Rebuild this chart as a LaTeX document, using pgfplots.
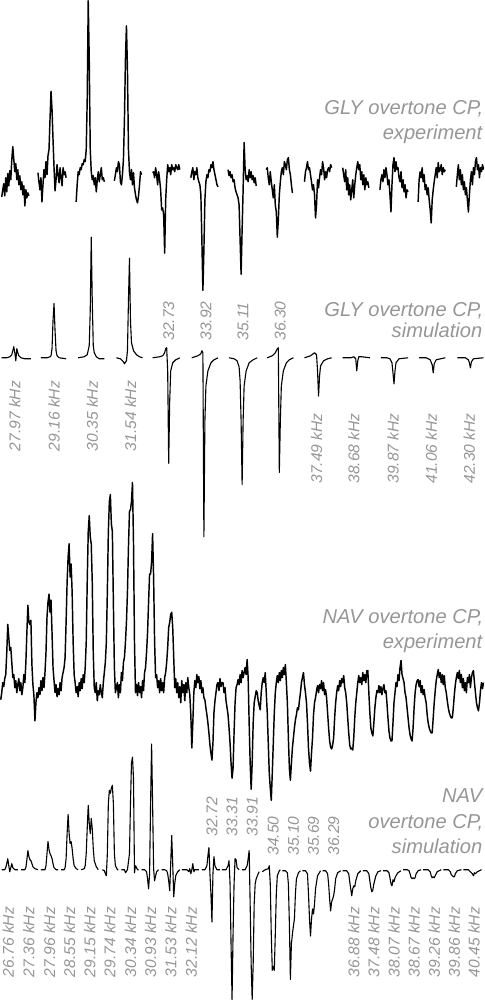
\documentclass[border=0pt]{standalone}
\usepackage{pgfplots}
\pgfplotsset{compat=1.18}
\usepackage{fontspec}
\setmainfont{Liberation Sans}
\definecolor{lblgray}{RGB}{150,150,150}
\pgfplotsset{tr/.style={black, line width=1.1pt, no markers, line join=round},
  trn/.style={black, line width=1.45pt, no markers, line join=round}}
\begin{document}
\begin{tikzpicture}
\begin{axis}[scale only axis, width=494pt, height=1000pt,
  xmin=0, xmax=494, ymin=0, ymax=1000, y dir=reverse,
  hide axis, clip=false]
% ---------- Panel 1: GLY experiment ----------
\addplot[trn] coordinates {(13,197)(14,190)(15,184)(16,196)(17,178)(18,192)(19,174)(20,186)(21,171)(22,180)(23,160)(24,147)(25,160)(26,172)(27,164)(28,180)(29,170)(30,185)(31,176)(32,190)(33,182)(34,195)(35,186)(36,206)(37,190)(38,198)(39,193)(40,196)};
\addplot[trn] coordinates {(49,173)(50,182)(51,190)(52,178)(53,202)(54,185)(55,170)(56,178)(57,162)(58,175)(59,156)(60,150)(61,120)(62,92)(63,110)(64,140)(65,168)(66,191)(67,180)(68,165)(69,175)(70,183)(71,168)(72,178)(73,186)(74,168)(75,175)(76,172)(77,178)};
\addplot[trn] coordinates {(87,202)(88,185)(89,172)(90,175)(91,168)(92,170)(93,164)(94,165)(95,160)(96,162)(97,150)(98,100)(99,2)(100,60)(101,150)(102,172)(103,180)(104,176)(105,185)(106,178)(107,192)(108,180)(109,172)(110,182)(111,175)(112,168)(113,180)(114,178)(115,182)};
\addplot[trn] coordinates {(125,181)(126,175)(127,168)(128,172)(129,162)(130,165)(131,182)(132,185)(133,175)(134,160)(135,120)(136,60)(137,27)(138,70)(139,150)(140,172)(141,180)(142,170)(143,185)(144,173)(145,188)(146,195)(147,200)(148,203)(149,196)(150,185)(151,172)(152,175)};
\addplot[trn] coordinates {(163,173)(164,172)(165,178)(166,168)(167,175)(168,185)(169,172)(170,180)(171,190)(172,210)(173,208)(174,215)(175,253)(176,200)(177,180)(178,165)(179,172)(180,168)(181,175)(182,165)(183,170)(184,168)(185,172)(186,165)(187,168)(188,170)(189,165)(190,170)};
\addplot[trn] coordinates {(201,178)(202,172)(203,168)(204,180)(205,172)(206,175)(207,168)(208,178)(209,182)(210,185)(211,195)(212,240)(213,290)(214,250)(215,200)(216,182)(217,175)(218,178)(219,170)(220,172)(221,165)(222,168)(223,162)(224,170)(225,175)(226,180)(227,185)(228,187)};
\addplot[trn] coordinates {(238,170)(239,176)(240,172)(241,178)(242,175)(243,182)(244,180)(245,188)(246,192)(247,195)(248,198)(249,205)(250,240)(251,274)(252,230)(253,190)(254,143)(255,170)(256,180)(257,176)(258,182)(259,170)(260,178)(261,172)(262,180)(263,176)(264,183)(265,178)(266,186)};
\addplot[trn] coordinates {(276,170)(277,168)(278,178)(279,185)(280,172)(281,182)(282,190)(283,198)(284,185)(285,205)(286,212)(287,237)(288,220)(289,195)(290,182)(291,172)(292,168)(293,175)(294,162)(295,165)(296,170)(297,160)(298,158)(299,170)(300,175)(301,185)(302,193)};
\addplot[trn] coordinates {(314,182)(315,172)(316,168)(317,162)(318,170)(319,168)(320,175)(321,182)(322,190)(323,185)(324,195)(325,218)(326,205)(327,180)(328,188)(329,178)(330,170)(331,175)(332,162)(333,168)(334,180)(335,172)(336,178)(337,170)(338,168)(339,172)(340,165)(341,168)};
\addplot[trn] coordinates {(352,168)(353,175)(354,182)(355,170)(356,190)(357,178)(358,195)(359,185)(360,200)(361,190)(362,180)(363,198)(364,185)(365,175)(366,168)(367,162)(368,170)(369,165)(370,180)(371,172)(372,185)(373,175)(374,190)(375,178)(376,185)(377,182)(378,188)};
\addplot[trn] coordinates {(389,190)(390,180)(391,175)(392,182)(393,170)(394,178)(395,168)(396,175)(397,185)(398,180)(399,195)(400,212)(401,185)(402,165)(403,158)(404,172)(405,162)(406,170)(407,168)(408,178)(409,182)(410,172)(411,188)(412,180)(413,192)(414,185)(415,198)(416,190)(417,192)};
\addplot[trn] coordinates {(427,202)(428,180)(429,172)(430,178)(431,168)(432,182)(433,175)(434,190)(435,185)(436,195)(437,188)(438,200)(439,210)(440,223)(441,200)(442,190)(443,182)(444,175)(445,168)(446,178)(447,163)(448,172)(449,170)(450,165)(451,175)(452,168)(453,172)(454,170)};
\addplot[trn] coordinates {(465,187)(466,175)(467,165)(468,180)(469,170)(470,185)(471,175)(472,190)(473,182)(474,195)(475,188)(476,200)(477,212)(478,195)(479,180)(480,172)(481,185)(482,168)(483,175)(484,162)(485,158)(486,170)(487,165)(488,178)(489,168)(490,172)(491,165)(492,170)};
% ---------- Panel 2: GLY simulation ----------
\addplot[tr] coordinates {(13,357)(18,357)(21,356)(23,354)(24,350)(25,346)(26,352)(27,360)(28,348)(29,352)(30,355)(32,357)(36,358)(42,358)};
\addplot[tr] coordinates {(52,357)(58,357)(61,356)(62,355)(63,348)(64,320)(65,303)(66,330)(67,350)(68,355)(70,357)(77,358)};
\addplot[tr] coordinates {(89,357)(95,356)(98,354)(100,345)(101,310)(102,237)(103,300)(104,345)(105,352)(107,356)(110,358)(115,358)};
\addplot[tr] coordinates {(127,357)(131,358)(134,361)(135,363)(137,360)(138,350)(139,300)(140,258)(141,320)(142,342)(144,350)(147,354)(150,356)(153,357)};
\addplot[tr] coordinates {(163,357)(170,356)(173,355)(175,352)(176,348)(177,347)(178,370)(179,462)(180,400)(181,370)(183,362)(186,359)(190,357)};
\addplot[tr] coordinates {(202,357)(208,355)(211,353)(212,350)(213,352)(214,535)(215,420)(216,385)(218,370)(221,362)(224,359)(228,357)};
\addplot[tr] coordinates {(239,357)(244,358)(247,360)(249,366)(250,380)(251,420)(252,483)(253,420)(254,385)(256,370)(259,362)(263,359)(267,357)};
\addplot[tr] coordinates {(277,357)(282,355)(285,352)(287,348)(288,347)(289,471)(290,420)(291,385)(293,370)(296,362)(299,359)(303,357)};
\addplot[tr] coordinates {(314,357)(320,355)(324,352)(326,354)(327,370)(328,395)(329,375)(330,365)(333,360)(337,358)(341,357)};
\addplot[tr] coordinates {(352,357)(360,357)(363,356)(365,358)(366,370)(367,360)(368,356)(371,356)(379,357)};
\addplot[tr] coordinates {(390,357)(396,357)(399,358)(401,362)(402,372)(403,383)(404,370)(405,362)(408,358)(417,357)};
\addplot[tr] coordinates {(428,357)(435,357)(439,359)(441,364)(442,372)(443,363)(445,359)(454,357)};
\addplot[tr] coordinates {(466,357)(474,357)(477,359)(478,362)(479,367)(480,361)(482,358)(492,357)};
% ---------- Panel 3: NAV experiment ----------
\addplot[trn] coordinates {(12,697)(13,690)(14,680)(15,684)(16,676)(17,672)(18,650)(19,622)(20,635)(21,648)(22,645)(23,660)(24,675)(25,672)(26,685)(27,678)(28,690)(29,682)(30,676)(31,688)(32,680)(33,692)(34,685)(35,672)(36,680)(37,660)(38,630)(39,603)(40,620)(41,622)(42,618)(43,662)(44,682)(45,693)(46,718)(47,700)(48,690)(49,695)(50,685)(51,692)(52,678)(53,688)(54,675)(55,685)(56,670)(57,650)(58,615)(59,600)(60,592)(61,610)(62,598)(63,630)(64,665)(65,678)(66,690)(67,682)(68,694)(69,686)(70,692)(71,680)(72,688)(73,675)(74,670)(75,665)(76,655)(77,620)(78,580)(79,555)(80,542)(81,575)(82,562)(83,590)(84,640)(85,672)(86,680)(87,690)(88,684)(89,694)(90,680)(91,688)(92,676)(93,686)(94,672)(95,680)(96,665)(97,640)(98,580)(99,530)(100,514)(101,535)(102,542)(103,580)(104,650)(105,685)(106,690)(107,680)(108,698)(109,688)(110,692)(111,682)(112,690)(113,695)(114,680)(115,670)(116,660)(117,640)(118,590)(119,530)(120,500)(121,493)(122,522)(123,530)(124,600)(125,665)(126,690)(127,685)(128,680)(129,695)(130,682)(131,690)(132,670)(133,678)(134,660)(135,655)(136,640)(137,620)(138,590)(139,545)(140,510)(141,508)(142,500)(143,481)(144,540)(145,640)(146,690)(147,682)(148,693)(149,680)(150,690)(151,684)(152,695)(153,678)(154,688)(155,670)(156,665)(157,650)(158,630)(159,600)(160,572)(161,572)(162,560)(163,532)(164,575)(165,640)(166,675)(167,672)(168,685)(169,678)(170,690)(171,676)(172,688)(173,680)(174,690)(175,675)(176,670)(177,660)(178,645)(179,625)(180,620)(181,612)(182,610)(183,625)(184,655)(185,685)(186,676)(187,690)(188,680)(189,695)(190,684)(191,700)(192,678)(193,690)(194,682)(195,698)(196,680)(197,690)(198,675)(199,685)(200,692)(201,712)(202,745)(203,720)(204,690)(205,678)(206,685)(207,672)(208,680)(209,674)(210,686)(211,678)(212,690)(213,685)(214,695)(215,697)(216,705)(217,712)(218,720)(219,730)(220,742)(221,750)(222,757)(223,740)(224,710)(225,698)(226,690)(227,682)(228,680)(229,688)(230,676)(231,684)(232,680)(233,680)(234,690)(235,685)(236,698)(237,705)(238,712)(239,725)(240,740)(241,760)(242,775)(243,765)(244,730)(245,700)(246,685)(247,682)(248,677)(249,682)(250,672)(251,680)(252,668)(253,675)(254,670)(255,665)(256,672)(257,657)(258,675)(259,720)(260,760)(261,786)(262,760)(263,720)(264,700)(265,694)(266,688)(267,690)(268,698)(269,703)(270,707)(271,690)(272,680)(273,675)(274,680)(275,670)(276,690)(277,710)(278,740)(279,770)(280,785)(281,797)(282,770)(283,740)(284,710)(285,690)(286,680)(287,673)(288,680)(289,670)(290,678)(291,668)(292,675)(293,665)(294,672)(295,662)(296,680)(297,700)(298,735)(299,765)(300,777)(301,760)(302,745)(303,735)(304,725)(305,717)(306,712)(307,705)(308,707)(309,698)(310,690)(311,680)(312,675)(313,670)(314,682)(315,690)(316,700)(317,720)(318,745)(319,760)(320,768)(321,750)(322,735)(323,712)(324,700)(325,695)(326,688)(327,683)(328,690)(329,682)(330,686)(331,678)(332,688)(333,680)(334,692)(335,687)(336,695)(337,710)(338,725)(339,738)(340,744)(341,746)(342,742)(343,735)(344,715)(345,700)(346,690)(347,683)(348,688)(349,678)(350,684)(351,676)(352,680)(353,673)(354,685)(355,690)(356,700)(357,715)(358,730)(359,742)(360,746)(361,745)(362,747)(363,735)(364,715)(365,700)(366,690)(367,680)(368,673)(369,680)(370,675)(371,682)(372,670)(373,678)(374,672)(375,680)(376,668)(377,668)(378,690)(379,710)(380,725)(381,730)(382,733)(383,720)(384,705)(385,695)(386,688)(387,690)(388,683)(389,690)(390,684)(391,692)(392,686)(393,682)(394,690)(395,688)(396,700)(397,715)(398,728)(399,735)(400,738)(401,738)(402,720)(403,700)(404,690)(405,680)(406,684)(407,672)(408,678)(409,665)(410,658)(411,672)(412,676)(413,680)(414,690)(415,695)(416,705)(417,715)(418,725)(419,732)(420,736)(421,738)(422,725)(423,705)(424,690)(425,682)(426,678)(427,677)(428,684)(429,678)(430,690)(431,683)(432,692)(433,687)(434,695)(435,700)(436,712)(437,720)(438,725)(439,728)(440,730)(441,730)(442,715)(443,700)(444,688)(445,678)(446,672)(447,667)(448,675)(449,670)(450,680)(451,672)(452,682)(453,673)(454,685)(455,690)(456,698)(457,705)(458,710)(459,713)(460,715)(461,715)(462,705)(463,692)(464,682)(465,675)(466,670)(467,676)(468,668)(469,680)(470,672)(471,685)(472,676)(473,688)(474,680)(475,690)(476,675)(477,680)(478,672)(479,685)(480,675)(481,670)(482,668)(483,680)(484,690)(485,700)(486,705)(487,708)(488,700)(489,688)(490,680)(491,686)(492,680)};
% ---------- Panel 4: NAV simulation ----------
\addplot[tr] coordinates {(13,866)(16,866)(17,864)(18,860)(19,855)(20,862)(21,868)(22,864)(23,860)(24,864)(26,866)(29,866)};
\addplot[tr] coordinates {(32,866)(36,866)(37,864)(38,856)(39,847)(40,853)(41,856)(42,857)(43,860)(44,863)(46,865)(49,866)};
\addplot[tr] coordinates {(52,866)(56,866)(57,862)(58,850)(59,838)(60,846)(61,850)(62,852)(63,855)(64,860)(65,864)(67,866)(69,866)};
\addplot[tr] coordinates {(72,866)(75,866)(76,864)(77,855)(78,830)(79,811)(80,830)(81,840)(82,838)(83,845)(84,855)(85,862)(87,865)(89,866)};
\addplot[tr] coordinates {(92,866)(95,865)(96,862)(97,850)(98,825)(99,802)(100,820)(101,830)(102,815)(103,825)(104,845)(105,857)(107,863)(109,866)};
\addplot[tr] coordinates {(113,866)(115,867)(116,870)(117,872)(118,850)(119,800)(120,787)(121,790)(122,785)(123,782)(124,800)(125,850)(126,862)(128,866)(129,866)};
\addplot[tr] coordinates {(132,866)(135,866)(136,869)(138,866)(140,850)(141,800)(142,760)(143,754)(144,775)(145,869)(146,862)(148,866)(149,866)};
\addplot[tr] coordinates {(152,866)(155,866)(157,868)(158,875)(159,885)(160,870)(161,800)(162,741)(163,800)(164,865)(165,877)(166,872)(167,868)(169,866)};
\addplot[tr] coordinates {(172,866)(175,866)(177,867)(178,870)(179,877)(180,887)(181,860)(182,832)(183,860)(184,893)(185,880)(186,872)(188,868)(190,866)};
\addplot[tr] coordinates {(192,866)(197,866)(199,868)(200,865)(201,870)(202,866)(203,860)(204,868)(205,866)(209,866)};
\addplot[tr] coordinates {(212,866)(215,866)(217,862)(218,852)(219,844)(220,870)(221,890)(222,918)(223,870)(224,853)(225,862)(227,866)(230,866)};
\addplot[tr] coordinates {(232,866)(236,866)(238,862)(239,857)(240,880)(241,940)(242,995)(243,930)(244,880)(245,855)(246,856)(247,864)(249,866)};
\addplot[tr] coordinates {(252,866)(255,866)(257,862)(258,855)(259,847)(260,900)(261,960)(262,995)(263,960)(264,900)(265,880)(266,875)(268,870)(269,868)};
\addplot[tr] coordinates {(272,868)(275,866)(278,865)(279,862)(280,880)(281,930)(282,966)(283,962)(284,966)(285,930)(286,890)(287,872)(289,867)(290,866)};
\addplot[tr] coordinates {(292,867)(295,867)(297,869)(298,880)(299,920)(300,975)(301,940)(302,930)(303,922)(304,915)(305,890)(306,875)(308,869)(310,867)};
\addplot[tr] coordinates {(312,867)(315,867)(317,870)(318,890)(319,915)(320,932)(321,915)(322,905)(323,910)(324,900)(325,885)(327,872)(330,867)};
\addplot[tr] coordinates {(332,867)(335,867)(337,870)(338,880)(339,895)(340,907)(341,898)(342,895)(343,892)(344,885)(345,875)(347,869)(350,867)};
\addplot[tr] coordinates {(352,867)(356,867)(358,870)(359,878)(360,885)(361,892)(362,885)(363,882)(364,883)(365,877)(367,870)(370,867)};
\addplot[tr] coordinates {(372,867)(376,867)(378,870)(379,877)(380,884)(381,888)(382,886)(383,880)(385,872)(387,868)(390,867)};
\addplot[tr] coordinates {(392,867)(396,867)(398,869)(399,874)(400,880)(401,882)(402,876)(403,878)(404,874)(405,872)(407,869)(410,867)};
\addplot[tr] coordinates {(412,866)(416,866)(418,867)(419,870)(420,874)(421,875)(422,874)(423,875)(424,874)(425,870)(427,867)(430,866)};
\addplot[tr] coordinates {(432,866)(437,866)(439,868)(440,872)(441,874)(442,873)(443,874)(444,872)(446,868)(450,866)};
\addplot[tr] coordinates {(452,866)(457,866)(459,868)(460,871)(461,872)(462,873)(463,873)(464,870)(466,867)(470,866)};
\addplot[tr] coordinates {(472,866)(477,866)(479,868)(480,869)(481,870)(482,872)(483,869)(484,870)(486,868)(490,866)};
% ---------- Panel titles ----------
\begin{scope}[every node/.style={anchor=base east, inner sep=0pt, text=lblgray, font=\fontsize{20}{24}\selectfont\itshape}]
\node at (axis cs:492,115) {GLY overtone CP,};
\node at (axis cs:491,140) {experiment};
\node at (axis cs:492,316) {GLY overtone CP,};
\node at (axis cs:491,337) {simulation};
\node at (axis cs:492,621) {NAV overtone CP,};
\node at (axis cs:491,646) {experiment};
\node at (axis cs:491,799) {NAV};
\node at (axis cs:492,825) {overtone CP,};
\node at (axis cs:491,850) {simulation};
\end{scope}
% ---------- Frequency labels ----------
\begin{scope}[every node/.style={rotate=90, inner sep=0pt, text=lblgray, font=\fontsize{15.5}{18}\selectfont\itshape}]
\node[anchor=east] at (axis cs:26,380) {27.97 kHz};
\node[anchor=east] at (axis cs:65,380) {29.16 kHz};
\node[anchor=east] at (axis cs:103,380) {30.35 kHz};
\node[anchor=east] at (axis cs:141,380) {31.54 kHz};
\node[anchor=west] at (axis cs:179,340) {32.73};
\node[anchor=west] at (axis cs:216,340) {33.92};
\node[anchor=west] at (axis cs:253,340) {35.11};
\node[anchor=west] at (axis cs:290,340) {36.30};
\node[anchor=east] at (axis cs:326,412) {37.49 kHz};
\node[anchor=east] at (axis cs:363,412) {38.68 kHz};
\node[anchor=east] at (axis cs:402,412) {39.87 kHz};
\node[anchor=east] at (axis cs:440,412) {41.06 kHz};
\node[anchor=east] at (axis cs:478,412) {42.30 kHz};
\node[anchor=east] at (axis cs:19.5,903) {26.76 kHz};
\node[anchor=east] at (axis cs:40,903) {27.36 kHz};
\node[anchor=east] at (axis cs:60.5,903) {27.96 kHz};
\node[anchor=east] at (axis cs:80.5,903) {28.55 kHz};
\node[anchor=east] at (axis cs:100.5,903) {29.15 kHz};
\node[anchor=east] at (axis cs:120.5,903) {29.74 kHz};
\node[anchor=east] at (axis cs:141,903) {30.34 kHz};
\node[anchor=east] at (axis cs:161,903) {30.93 kHz};
\node[anchor=east] at (axis cs:181,903) {31.53 kHz};
\node[anchor=east] at (axis cs:201.5,903) {32.12 kHz};
\node[anchor=west] at (axis cs:222,833) {32.72};
\node[anchor=west] at (axis cs:242,833) {33.31};
\node[anchor=west] at (axis cs:262,833) {33.91};
\node[anchor=west] at (axis cs:283,852) {34.50};
\node[anchor=west] at (axis cs:303,852) {35.10};
\node[anchor=west] at (axis cs:323,852) {35.69};
\node[anchor=west] at (axis cs:343,852) {36.29};
\node[anchor=east] at (axis cs:363,903) {36.88 kHz};
\node[anchor=east] at (axis cs:383,903) {37.48 kHz};
\node[anchor=east] at (axis cs:403,903) {38.07 kHz};
\node[anchor=east] at (axis cs:423,903) {38.67 kHz};
\node[anchor=east] at (axis cs:443,903) {39.26 kHz};
\node[anchor=east] at (axis cs:463,903) {39.86 kHz};
\node[anchor=east] at (axis cs:482.5,903) {40.45 kHz};
\end{scope}
\end{axis}
\end{tikzpicture}
\end{document}
